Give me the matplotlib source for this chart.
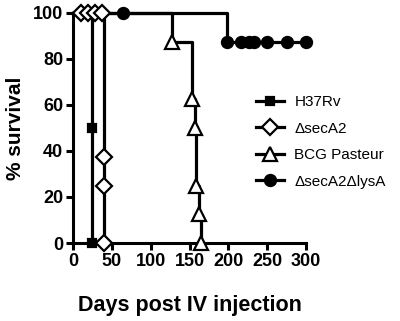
import numpy as np
import matplotlib.pyplot as plt

plt.rcParams['font.family'] = ['Liberation Sans', 'DejaVu Sans']

# Kaplan-Meier data (days, % survival)
h37rv_days = [0, 24, 24]
h37rv_surv = [100, 50, 0]

seca2_days = [0, 10, 19, 28, 37, 40, 40, 40]
seca2_surv = [100, 100, 100, 100, 100, 37.5, 25, 0]

bcg_days = [0, 127, 153, 157, 159, 162, 165]
bcg_surv = [100, 87.5, 62.5, 50, 25, 12.5, 0]

lys_days = [0, 64, 198, 216, 226, 233, 250, 275, 300]
lys_surv = [100, 100, 87.5, 87.5, 87.5, 87.5, 87.5, 87.5, 87.5]

labels = ['H37Rv', '\u0394secA2', 'BCG Pasteur', '\u0394secA2\u0394lysA']
x_ticks = [0, 50, 100, 150, 200, 250, 300]
y_ticks = [0, 20, 40, 60, 80, 100]

fig = plt.figure(figsize=(4, 3.21), dpi=100)
ax = fig.add_axes([73/400, 1 - 243/321, 233/400, 230/321])

series = [
    (h37rv_days, h37rv_surv, 's', 'k', 6),
    (seca2_days, seca2_surv, 'D', 'white', 8),
    (bcg_days, bcg_surv, '^', 'white', 9.5),
    (lys_days, lys_surv, 'o', 'k', 8),
]

handles = []
for (d, s, m, fc, ms), lab in zip(series, labels):
    ax.plot(d, s, drawstyle='steps-post', color='k', lw=2.3, clip_on=False, zorder=3)
    ax.plot(d[1:], s[1:], ls='none', marker=m, mfc=fc, mec='k', mew=1.6, ms=ms,
            clip_on=False, zorder=4)
    h, = ax.plot([], [], color='k', lw=2.3, marker=m, mfc=fc, mec='k', mew=1.6, ms=ms)
    handles.append(h)

ax.set_xlim(0, 300)
ax.set_ylim(0, 100)
ax.set_xticks(x_ticks)
ax.set_yticks(y_ticks)
for sp in ['top', 'right']:
    ax.spines[sp].set_visible(False)
for sp in ['left', 'bottom']:
    ax.spines[sp].set_linewidth(2.2)
ax.tick_params(width=2.2, length=5, labelsize=13, pad=2)
for t in ax.get_xticklabels() + ax.get_yticklabels():
    t.set_fontweight('bold')

ax.set_xlabel('Days post IV injection', fontsize=15.5, fontweight='bold', labelpad=18)
ax.set_ylabel('% survival', fontsize=15, fontweight='bold', labelpad=6)

fig.legend(handles, labels, loc='upper left', bbox_to_anchor=(250/400, 1 - 89/321),
           frameon=False, fontsize=11, handlelength=1.8, handletextpad=0.7,
           labelspacing=0.82, borderaxespad=0)

fig.savefig('out.png', dpi=100)
